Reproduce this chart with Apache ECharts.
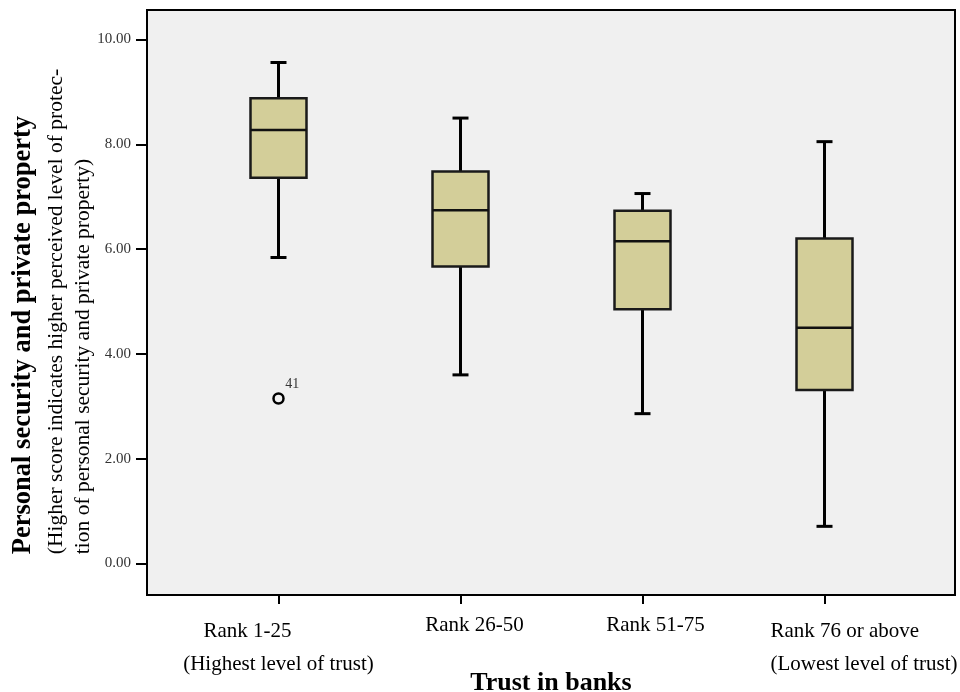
<!DOCTYPE html>
<html>
<head>
<meta charset="utf-8">
<script src="https://cdn.jsdelivr.net/npm/echarts@6/dist/echarts.min.js"></script>
<style>
html,body{margin:0;padding:0;background:#fff;}
#chart{width:960px;height:692px;}
</style>
</head>
<body>
<div id="chart"></div>
<script>
// ---- data ----
const categories = ['Rank 1-25', 'Rank 26-50', 'Rank 51-75', 'Rank 76 or above'];
const subLabels = ['(Highest level of trust)', '', '', '(Lowest level of trust)'];
const lowWhisker = [5.84, 3.60, 2.86, 0.71];
const q1 = [7.36, 5.67, 4.85, 3.31];
const median = [8.27, 6.74, 6.15, 4.50];
const q3 = [8.88, 7.48, 6.73, 6.20];
const highWhisker = [9.56, 8.50, 7.06, 8.05];
const outlierCategory = [0];
const outlierValue = [3.15];
const outlierCase = ['41'];
const yTicks = [0, 2, 4, 6, 8, 10];

const boxData = categories.map((c, i) => [i, lowWhisker[i], q1[i], median[i], q3[i], highWhisker[i]]);
const outlierData = outlierCategory.map((c, i) => ({ value: [c, outlierValue[i]], name: outlierCase[i] }));

const serif = 'Liberation Serif, Times New Roman, serif';
const chart = echarts.init(document.getElementById('chart'));

const labelRich = {
  a0: { fontFamily: serif, fontSize: 21, color: '#000', lineHeight: 33, padding: [0, 62, 0, 0] },
  a1: { fontFamily: serif, fontSize: 21, color: '#000', lineHeight: 21, padding: [0, 0, 0, 28] },
  a2: { fontFamily: serif, fontSize: 21, color: '#000', lineHeight: 21, padding: [0, 0, 0, 26] },
  a3: { fontFamily: serif, fontSize: 21, color: '#000', lineHeight: 33, align: 'left', padding: [0, 0, 0, 79] },
  b0: { fontFamily: serif, fontSize: 21, color: '#000', lineHeight: 33 },
  b3: { fontFamily: serif, fontSize: 21, color: '#000', lineHeight: 33, align: 'left', padding: [0, 0, 0, 79] }
};
function catLabel(v) {
  const i = Math.round(v);
  let s = '{a' + i + '|' + categories[i] + '}';
  if (subLabels[i]) s += '\n{b' + i + '|' + subLabels[i] + '}';
  return s;
}
const xMin = -0.7225, xMax = 3.717;

chart.setOption({
  backgroundColor: '#fff',
  animation: false,
  grid: {
    left: 147, right: 5, top: 10, bottom: 97,
    show: true, backgroundColor: '#f0f0f0', borderColor: '#000', borderWidth: 2,
    containLabel: false, outerBoundsMode: 'none'
  },
  xAxis: [{
    type: 'value',
    position: 'bottom',
    min: xMin, max: xMax,
    splitLine: { show: false },
    axisLine: { show: true, onZero: false, lineStyle: { color: '#000', width: 2 } },
    axisTick: { show: true, customValues: [0, 1, 2, 3], length: 9, lineStyle: { color: '#000', width: 2 } },
    axisLabel: {
      customValues: [0, 1, 2],
      margin: 20,
      formatter: catLabel,
      rich: labelRich
    },
    name: 'Trust in banks',
    nameLocation: 'middle',
    nameGap: 75,
    nameMoveOverlap: false,
    nameTextStyle: { fontFamily: serif, fontSize: 26, fontWeight: 'bold', color: '#000' }
  }, {
    type: 'value',
    position: 'bottom',
    offset: 0,
    min: xMin, max: xMax,
    splitLine: { show: false },
    axisLine: { show: false },
    axisTick: { show: false },
    axisLabel: {
      customValues: [3],
      margin: 20,
      formatter: catLabel,
      rich: labelRich
    }
  }],
  yAxis: {
    type: 'value',
    min: -0.6, max: 10.562,
    splitLine: { show: false },
    axisLine: { show: true, onZero: false, lineStyle: { color: '#000', width: 2 } },
    axisTick: { show: true, customValues: yTicks, length: 11, lineStyle: { color: '#000', width: 2 } },
    axisLabel: {
      customValues: yTicks,
      margin: 16,
      fontFamily: serif, fontSize: 15, color: '#333',
      formatter: v => v.toFixed(2)
    },
    name: '{t|Personal security and private property}\n{s|(Higher score indicates higher perceived level of protec-}\n{u|tion of personal security and private property)}',
    nameLocation: 'middle',
    nameRotate: 90,
    nameGap: 50.5,
    nameMoveOverlap: false,
    nameTextStyle: {
      rich: {
        t: { fontFamily: serif, fontSize: 26.5, fontWeight: 'bold', color: '#000', lineHeight: 39, align: 'left' },
        s: { fontFamily: serif, fontSize: 21.5, color: '#000', lineHeight: 27, align: 'left', padding: [0, 18, 0, 0] },
        u: { fontFamily: serif, fontSize: 21.5, color: '#000', lineHeight: 27, align: 'left' }
      }
    }
  },
  series: [
    {
      type: 'custom',
      xAxisIndex: 0,
      data: boxData,
      encode: { x: 0, y: [1, 2, 3, 4, 5] },
      renderItem: function (params, api) {
        const x = api.value(0);
        const pLow = api.coord([x, api.value(1)]);
        const pQ1 = api.coord([x, api.value(2)]);
        const pMed = api.coord([x, api.value(3)]);
        const pQ3 = api.coord([x, api.value(4)]);
        const pHigh = api.coord([x, api.value(5)]);
        const cx = pLow[0];
        const halfW = 28;
        const capHalf = 8;
        const black = { stroke: '#000', lineWidth: 3 };
        return {
          type: 'group',
          children: [
            { type: 'line', shape: { x1: cx, y1: pHigh[1], x2: cx, y2: pQ3[1] }, style: black },
            { type: 'line', shape: { x1: cx, y1: pQ1[1], x2: cx, y2: pLow[1] }, style: black },
            { type: 'line', shape: { x1: cx - capHalf, y1: pHigh[1], x2: cx + capHalf, y2: pHigh[1] }, style: black },
            { type: 'line', shape: { x1: cx - capHalf, y1: pLow[1], x2: cx + capHalf, y2: pLow[1] }, style: black },
            { type: 'rect', shape: { x: cx - halfW, y: pQ3[1], width: halfW * 2, height: pQ1[1] - pQ3[1] },
              style: { fill: '#d3ce99', stroke: '#1a1a1a', lineWidth: 2.5 } },
            { type: 'line', shape: { x1: cx - halfW, y1: pMed[1], x2: cx + halfW, y2: pMed[1] },
              style: { stroke: '#111', lineWidth: 2.5 } }
          ]
        };
      },
      z: 3
    },
    {
      type: 'scatter',
      xAxisIndex: 0,
      data: outlierData,
      symbol: 'circle',
      symbolSize: 10,
      itemStyle: { color: 'rgba(0,0,0,0)', borderColor: '#000', borderWidth: 2.5, opacity: 1 },
      label: {
        show: true,
        formatter: p => p.name,
        position: [13, -15],
        fontFamily: serif, fontSize: 14, color: '#333'
      },
      z: 4
    }
  ]
});
</script>
</body>
</html>
